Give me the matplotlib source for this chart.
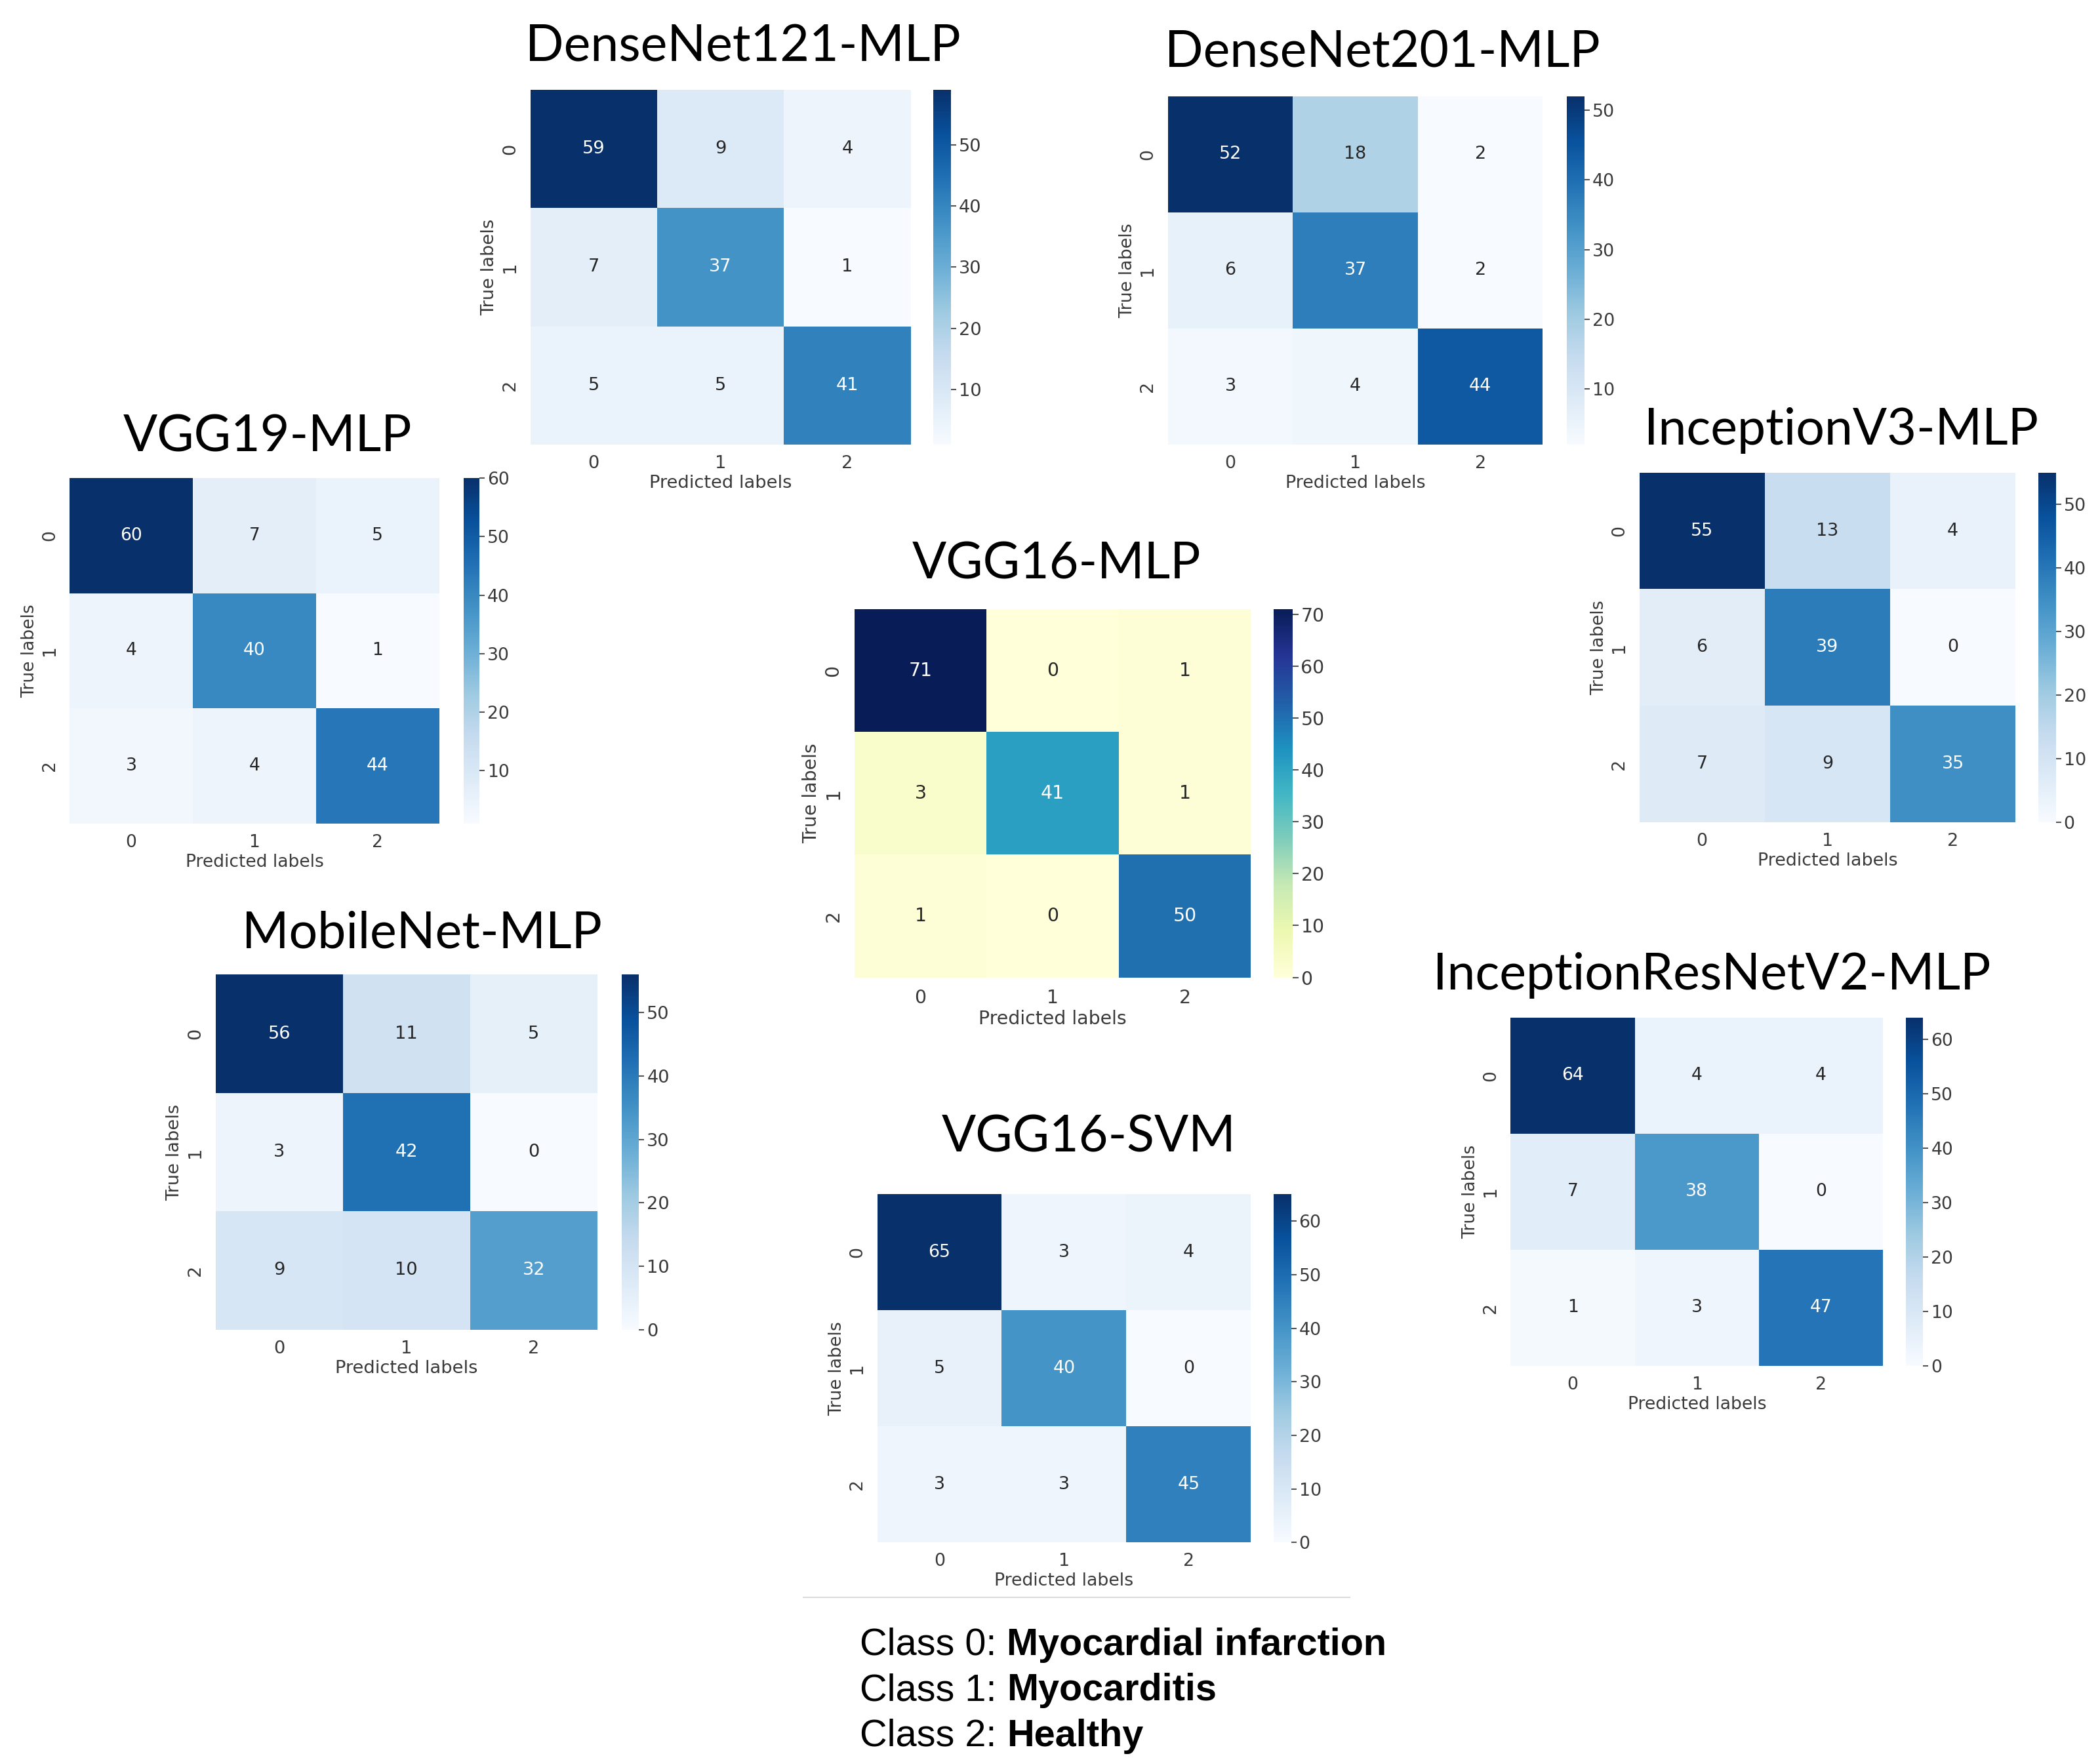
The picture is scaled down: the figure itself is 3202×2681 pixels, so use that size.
import matplotlib
matplotlib.use("Agg")
import matplotlib.pyplot as plt
from matplotlib.lines import Line2D
import seaborn as sns
import numpy as np

# ---------------- data ----------------
class_labels = ["0", "1", "2"]

densenet121_mlp = [[59, 9, 4], [7, 37, 1], [5, 5, 41]]
densenet201_mlp = [[52, 18, 2], [6, 37, 2], [3, 4, 44]]
vgg19_mlp = [[60, 7, 5], [4, 40, 1], [3, 4, 44]]
vgg16_mlp = [[71, 0, 1], [3, 41, 1], [1, 0, 50]]
inceptionv3_mlp = [[55, 13, 4], [6, 39, 0], [7, 9, 35]]
mobilenet_mlp = [[56, 11, 5], [3, 42, 0], [9, 10, 32]]
vgg16_svm = [[65, 3, 4], [5, 40, 0], [3, 3, 45]]
inceptionresnetv2_mlp = [[64, 4, 4], [7, 38, 0], [1, 3, 47]]

ticks_densenet121 = [10, 20, 30, 40, 50]
ticks_densenet201 = [10, 20, 30, 40, 50]
ticks_vgg19 = [10, 20, 30, 40, 50, 60]
ticks_vgg16_mlp = [0, 10, 20, 30, 40, 50, 60, 70]
ticks_inceptionv3 = [0, 10, 20, 30, 40, 50]
ticks_mobilenet = [0, 10, 20, 30, 40, 50]
ticks_vgg16_svm = [0, 10, 20, 30, 40, 50, 60]
ticks_inceptionresnetv2 = [0, 10, 20, 30, 40, 50, 60]

legend_prefix = ["Class 0: ", "Class 1: ", "Class 2: "]
legend_names = ["Myocardial infarction", "Myocarditis", "Healthy"]

# ---------------- layout (reference display units) ----------------
W, H = 1568.0, 1313.0


def rect(x0, y0, x1, y1):
    return [x0 / W, 1 - y1 / H, (x1 - x0) / W, (y1 - y0) / H]


panels = [
    # title, data, cmap, heat box, cbar box, title centre x, title baseline y, ticks
    ("DenseNet121-MLP", densenet121_mlp, "Blues", (396, 67, 680, 332), (697, 67, 710, 332), 555, 46, ticks_densenet121),
    ("DenseNet201-MLP", densenet201_mlp, "Blues", (872, 72, 1152, 332), (1170, 72, 1183, 332), 1032, 50, ticks_densenet201),
    ("VGG19-MLP", vgg19_mlp, "Blues", (52, 357, 328, 615), (346, 357, 358, 615), 200, 337, ticks_vgg19),
    ("VGG16-MLP", vgg16_mlp, "YlGnBu", (638, 455, 934, 730), (951, 455, 965, 730), 789, 432, ticks_vgg16_mlp),
    ("InceptionV3-MLP", inceptionv3_mlp, "Blues", (1224, 353, 1505, 614), (1522, 353, 1535, 614), 1375, 332, ticks_inceptionv3),
    ("MobileNet-MLP", mobilenet_mlp, "Blues", (161, 728, 446, 993), (464, 728, 477, 993), 315, 708, ticks_mobilenet),
    ("VGG16-SVM", vgg16_svm, "Blues", (655, 892, 934, 1152), (951, 892, 964, 1152), 813, 860, ticks_vgg16_svm),
    ("InceptionResNetV2-MLP", inceptionresnetv2_mlp, "Blues", (1128, 760, 1406, 1020), (1423, 760, 1436, 1020), 1278, 739, ticks_inceptionresnetv2),
]

fig = plt.figure(figsize=(32.02, 26.81), dpi=100)
fig.patch.set_facecolor("white")

txt_col = "#3a3a3a"

for title, data, cmap, hb, cb, tx, ty, ticks in panels:
    arr = np.array(data)
    fs = 19.6 * (hb[2] - hb[0]) / 284.0
    ax = fig.add_axes(rect(*hb))
    cax = fig.add_axes(rect(*cb))
    sns.heatmap(arr, annot=True, fmt="d", cmap=cmap, ax=ax, cbar_ax=cax,
                xticklabels=class_labels, yticklabels=class_labels,
                annot_kws={"size": fs})
    ax.set_yticklabels(class_labels, rotation=90, va="center")
    ax.tick_params(axis="both", length=0, labelsize=fs, labelcolor=txt_col)
    ax.tick_params(axis="x", pad=fs * 0.6)
    ax.tick_params(axis="y", pad=fs * 0.65)
    ax.set_xlabel("Predicted labels", fontsize=fs, color=txt_col, labelpad=fs * 0.15)
    ax.set_ylabel("True labels", fontsize=fs, color=txt_col, labelpad=fs * 0.2)
    cax.set_yticks(ticks)
    cax.tick_params(labelsize=fs, labelcolor=txt_col, color="#555555", length=fs * 0.3, width=1.5, pad=fs * 0.15)
    fig.text(tx / W, 1 - ty / H, title, ha="center", va="baseline",
             fontsize=55.5, family=["Lato", "DejaVu Sans"], color="black")

# separator line
fig.add_artist(Line2D([600 / W, 1008 / W], [1 - 1193 / H, 1 - 1193 / H],
                      color="#dcdcdc", lw=1.5, transform=fig.transFigure))

# legend lines
fig.canvas.draw()
renderer = fig.canvas.get_renderer()
baselines = [1236, 1270, 1304]
for pre, name, by in zip(legend_prefix, legend_names, baselines):
    t = fig.text(642 / W, 1 - by / H, pre, ha="left", va="baseline",
                 fontsize=41.5, family=["Liberation Sans", "DejaVu Sans"], color="black")
    bb = t.get_window_extent(renderer=renderer)
    x_end = bb.x1 / fig.bbox.width
    fig.text(x_end, 1 - by / H, name, ha="left", va="baseline",
             fontsize=41.5, fontweight="bold", family=["Liberation Sans", "DejaVu Sans"], color="black")

fig.savefig("out.png", dpi=100, facecolor="white")
